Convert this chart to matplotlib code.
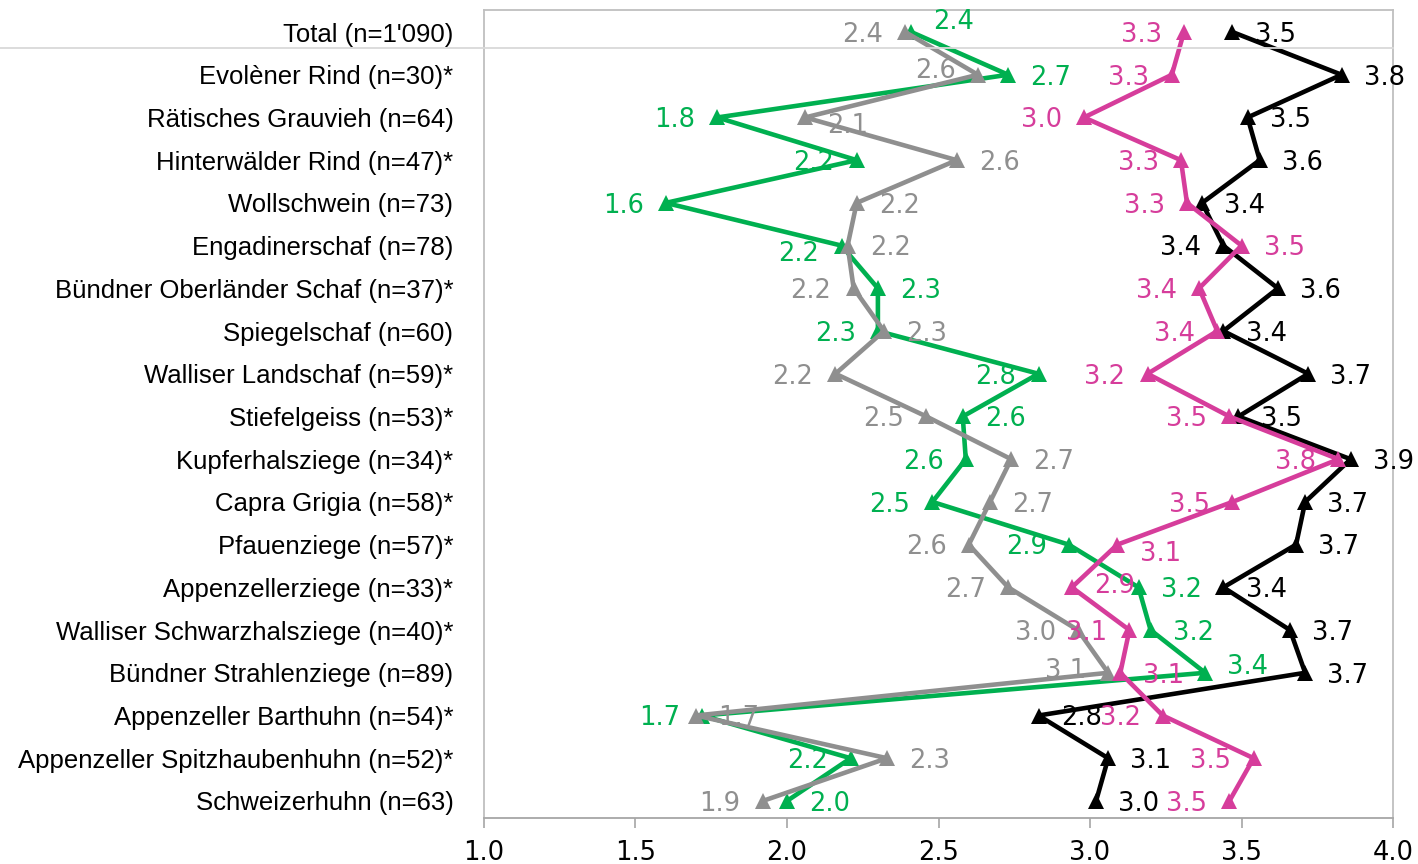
import matplotlib
matplotlib.use("Agg")
import matplotlib.pyplot as plt
from matplotlib.lines import Line2D
from matplotlib.transforms import blended_transform_factory

# categories, top to bottom
breeds = [
    "Total (n=1'090)", "Evolèner Rind (n=30)*", "Rätisches Grauvieh (n=64)",
    "Hinterwälder Rind (n=47)*", "Wollschwein (n=73)", "Engadinerschaf (n=78)",
    "Bündner Oberländer Schaf (n=37)*", "Spiegelschaf (n=60)",
    "Walliser Landschaf (n=59)*", "Stiefelgeiss (n=53)*", "Kupferhalsziege (n=34)*",
    "Capra Grigia (n=58)*", "Pfauenziege (n=57)*", "Appenzellerziege (n=33)*",
    "Walliser Schwarzhalsziege (n=40)*", "Bündner Strahlenziege (n=89)",
    "Appenzeller Barthuhn (n=54)*", "Appenzeller Spitzhaubenhuhn (n=52)*",
    "Schweizerhuhn (n=63)",
]

green_vals = [2.41, 2.73, 1.77, 2.23, 1.60, 2.18, 2.30, 2.30, 2.83, 2.58,
              2.59, 2.48, 2.93, 3.16, 3.20, 3.38, 1.72, 2.21, 2.00]
gray_vals = [2.39, 2.63, 2.06, 2.56, 2.23, 2.20, 2.22, 2.32, 2.16, 2.46,
             2.74, 2.67, 2.60, 2.73, 2.96, 3.06, 1.70, 2.33, 1.92]
magenta_vals = [3.31, 3.27, 2.98, 3.30, 3.32, 3.50, 3.36, 3.42, 3.19, 3.46,
                3.82, 3.47, 3.09, 2.94, 3.13, 3.10, 3.24, 3.54, 3.46]
black_vals = [3.47, 3.83, 3.52, 3.56, 3.37, 3.44, 3.62, 3.44, 3.72, 3.49,
              3.86, 3.71, 3.68, 3.44, 3.66, 3.71, 2.83, 3.06, 3.02]

x_ticks = [1.0, 1.5, 2.0, 2.5, 3.0, 3.5, 4.0]

# label side per point (L = left of marker, R = right of marker)
green_sides = "RRLLLLRLLRLLLRRRLLR"
gray_sides = "LLRRRRLRLLRRLLLLRRL"
magenta_sides = "LLLLLRLLLLLLRRLRLLL"
black_sides = "RRRRRLRRRRRRRRRRRRR"

# small vertical nudges (points, positive = up)
nudges = {
    ("green", 0): 9, ("gray", 1): 5, ("gray", 2): -4, ("green", 5): -4,
    ("magenta", 12): -5, ("magenta", 13): 3, ("green", 15): 6, ("gray", 15): 3,
}

series = [
    ("green", green_vals, green_sides, "#00B050"),
    ("gray", gray_vals, gray_sides, "#8F8F8F"),
    ("black", black_vals, black_sides, "#000000"),
    ("magenta", magenta_vals, magenta_sides, "#D63D9B"),
]

fig = plt.figure(figsize=(14.18, 8.64), dpi=100)
ax = fig.add_axes([0.3413, 0.0532, 0.6411, 0.9352])

ypos = list(range(len(breeds)))

for name, vals, sides, color in series:
    ax.plot(vals, ypos, color=color, lw=3.3, marker="^", markersize=12,
            markeredgewidth=0, zorder=3, clip_on=False)

for name, vals, sides, color in series:
    for i, (v, s) in enumerate(zip(vals, sides)):
        dy = nudges.get((name, i), 0) - 2
        if s == "R":
            off, ha = 16, "left"
        else:
            off, ha = -16, "right"
        ax.annotate(f"{v:.1f}", (v, i), xytext=(off, dy), textcoords="offset points",
                    ha=ha, va="center", color=color, fontsize=18.5,
                    family="DejaVu Sans", zorder=5)

ax.set_xlim(1.0, 4.0)
ax.set_ylim(len(breeds) - 1 + 0.4, -0.515)
ax.set_xticks(x_ticks)
ax.set_xticklabels([f"{t:.1f}" for t in x_ticks], fontsize=18.5, family="DejaVu Sans")
ax.set_yticks(ypos)
ax.set_yticklabels(breeds, fontsize=18.5, family="Liberation Sans")
ax.tick_params(axis="y", length=0, pad=22)
ax.tick_params(axis="x", direction="out", length=7, width=1.2, color="#A6A6A6", pad=9)

for sp in ax.spines.values():
    sp.set_color("#BFBFBF")
    sp.set_linewidth(1.3)
ax.spines["bottom"].set_color("#A6A6A6")

# separator line under the total row, running across the whole figure
trans = blended_transform_factory(fig.transFigure, ax.transData)
fig.add_artist(Line2D([0, 0.9824], [0.375, 0.375], transform=trans,
                      color="#D9D9D9", lw=1.3, zorder=1))

fig.savefig("out.png", dpi=100)
